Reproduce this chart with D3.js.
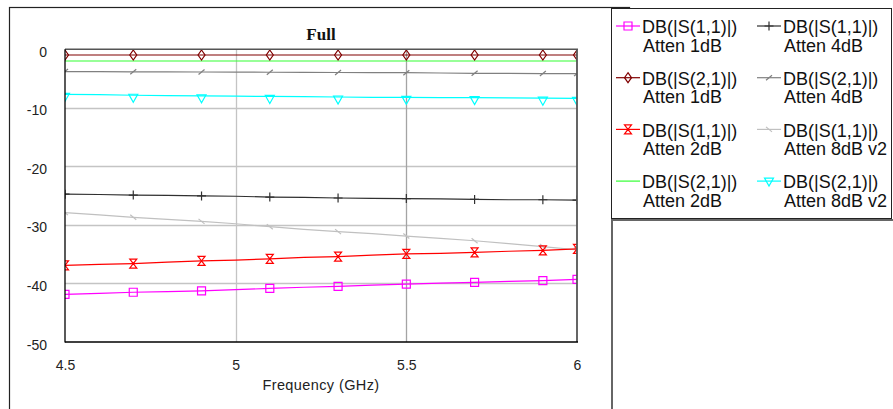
<!DOCTYPE html>
<html><head><meta charset="utf-8">
<script src="https://cdn.jsdelivr.net/npm/d3@7"></script>
<style>
html,body{margin:0;padding:0;background:#fff;}
svg{display:block;}
</style></head>
<body>
<svg id="c" width="893" height="409"></svg>
<script>
// ---- data ----
const freq = [4.5, 4.6, 4.7, 4.8, 4.9, 5.0, 5.1, 5.2, 5.3, 5.4, 5.5, 5.6, 5.7, 5.8, 5.9, 6.0];
const markerFreq = [4.5, 4.7, 4.9, 5.1, 5.3, 5.5, 5.7, 5.9, 6.0];
const yTicks = [0, -10, -20, -30, -40, -50];
const xTicks = [4.5, 5, 5.5, 6];
const chartTitle = "Full";
const xTitle = "Frequency (GHz)";

const s11_1dB = [-41.85, -41.7, -41.5, -41.4, -41.25, -41.05, -40.85, -40.65, -40.5, -40.3, -40.1, -39.95, -39.8, -39.65, -39.5, -39.3];
const s21_1dB = [-0.97, -0.97, -0.97, -0.97, -0.97, -0.97, -0.97, -0.97, -0.97, -0.97, -0.97, -0.97, -0.97, -0.97, -0.97, -0.97];
const s11_2dB = [-36.9, -36.75, -36.6, -36.35, -36.15, -36.0, -35.8, -35.55, -35.4, -35.15, -34.95, -34.85, -34.7, -34.5, -34.35, -34.1];
const s21_2dB = [-2.0, -2.0, -2.0, -2.0, -2.0, -2.0, -2.0, -2.0, -2.0, -2.0, -2.0, -2.0, -2.0, -2.0, -2.0, -2.0];
const s11_4dB = [-24.75, -24.8, -24.9, -24.95, -25.05, -25.1, -25.25, -25.3, -25.4, -25.45, -25.5, -25.55, -25.65, -25.7, -25.7, -25.75];
const s21_4dB = [-3.8, -3.82, -3.84, -3.86, -3.88, -3.9, -3.92, -3.94, -3.96, -3.98, -4.0, -4.05, -4.1, -4.12, -4.14, -4.16];
const s11_8dBv2 = [-27.9, -28.3, -28.7, -29.05, -29.4, -29.8, -30.3, -30.75, -31.15, -31.5, -31.9, -32.3, -32.7, -33.2, -33.7, -34.25];
const s21_8dBv2 = [-7.7, -7.75, -7.85, -7.9, -7.95, -8.0, -8.05, -8.1, -8.15, -8.2, -8.2, -8.25, -8.25, -8.3, -8.35, -8.4];

const seriesLabel1 = ["DB(|S(1,1)|)", "DB(|S(2,1)|)", "DB(|S(1,1)|)", "DB(|S(2,1)|)", "DB(|S(1,1)|)", "DB(|S(2,1)|)", "DB(|S(1,1)|)", "DB(|S(2,1)|)"];
const seriesLabel2 = ["Atten 1dB", "Atten 1dB", "Atten 2dB", "Atten 2dB", "Atten 4dB", "Atten 4dB", "Atten 8dB v2", "Atten 8dB v2"];
const seriesValues = [s11_1dB, s21_1dB, s11_2dB, s21_2dB, s11_4dB, s21_4dB, s11_8dBv2, s21_8dBv2];
const seriesColor = ["#ff00ff", "#800000", "#ff0000", "#33ff33", "#303030", "#808080", "#c0c0c0", "#00ffff"];
const seriesMarker = ["square", "diamond", "bowtie", "none", "plus", "slash", "backslash", "tridown"];

// ---- layout ----
const svg = d3.select("#c");
const L = 65, R = 577, T = 49.3, B = 342;
const x = d3.scaleLinear().domain([4.5, 6]).range([L, R]);
const y = d3.scaleLinear().domain([0, -50]).range([T, B]);

// outer frames
svg.append("rect").attr("x", 9.5).attr("y", 7.5).attr("width", 620).attr("height", 420)
  .attr("fill", "none").attr("stroke", "#222").attr("stroke-width", 1.2);
svg.append("rect").attr("x", 612).attr("y", 220).attr("width", 300).attr("height", 200)
  .attr("fill", "#fff").attr("stroke", "#666").attr("stroke-width", 2);
svg.append("rect").attr("x", 611.5).attr("y", 8.5).attr("width", 280).attr("height", 210)
  .attr("fill", "#fff").attr("stroke", "#222").attr("stroke-width", 1);

// title
svg.append("text").attr("x", 321).attr("y", 40).attr("text-anchor", "middle")
  .attr("font-family", "'Liberation Serif','Times New Roman',serif").attr("font-weight", "bold")
  .attr("font-size", 17).attr("fill", "#111").text(chartTitle);

// grid
const g = svg.append("g");
g.selectAll("line.hg").data(yTicks.filter(v => v !== 0 && v !== -50)).enter().append("line")
  .attr("x1", L).attr("x2", R).attr("y1", d => Math.round(y(d)) + 0.5).attr("y2", d => Math.round(y(d)) + 0.5)
  .attr("stroke", "#c4c4c4").attr("stroke-width", 1.3);
g.selectAll("line.vg").data(xTicks.filter(v => v !== 4.5 && v !== 6)).enter().append("line")
  .attr("y1", T).attr("y2", B).attr("x1", d => Math.round(x(d)) + 0.5).attr("x2", d => Math.round(x(d)) + 0.5)
  .attr("stroke", (d, i) => i === 0 ? "#c4c4c4" : "#a4a4a4").attr("stroke-width", 1.3);

// axes labels
const yAxis = d3.axisLeft(y).tickValues(yTicks).tickSize(0).tickPadding(18).tickFormat(d => String(d));
const ya = svg.append("g").attr("transform", `translate(${L},0)`).call(yAxis);
ya.select(".domain").remove();
ya.selectAll("text").attr("font-family", "'Liberation Sans',Arial,sans-serif").attr("font-size", 14)
  .attr("fill", "#222").attr("dy", "0.5em");

const xAxis = d3.axisBottom(x).tickValues(xTicks).tickSize(0).tickPadding(18).tickFormat(d => String(d));
const xa = svg.append("g").attr("transform", `translate(0,${B})`).call(xAxis);
xa.select(".domain").remove();
xa.selectAll("text").attr("font-family", "'Liberation Sans',Arial,sans-serif").attr("font-size", 14)
  .attr("fill", "#222");

svg.append("text").attr("x", 321).attr("y", 390).attr("text-anchor", "middle")
  .attr("font-family", "'Liberation Sans',Arial,sans-serif").attr("font-size", 14.5)
  .attr("letter-spacing", "0.4").attr("fill", "#222").text(xTitle);

// clip
svg.append("clipPath").attr("id", "pc").append("rect").attr("x", L).attr("y", T - 1).attr("width", R - L).attr("height", B - T + 2);

// marker shapes
function markerPath(type) {
  switch (type) {
    case "square": return "M-4,-4H4V4H-4Z";
    case "diamond": return "M0,-5L3.5,0L0,5L-3.5,0Z";
    case "bowtie": return "M-3.5,-4.5H3.5L0,0L3.5,4.5H-3.5L0,0Z";
    case "plus": return "M-4.5,0H4.5M0,-4.5V4.5";
    case "slash": return "M-3,2.5L3,-2.5";
    case "backslash": return "M-3,-2.5L3,2.5";
    case "tridown": return "M-4.5,-1H4.5L0,7Z";
    default: return "";
  }
}

const plot = svg.append("g").attr("clip-path", "url(#pc)");
const line = d3.line().x((d, i) => x(freq[i])).y(d => y(d));
const drawOrder = [6, 4, 0, 2, 7, 5, 3, 1];
drawOrder.forEach(k => {
  const vals = seriesValues[k];
  plot.append("path").attr("d", line(vals)).attr("fill", "none")
    .attr("stroke", seriesColor[k]).attr("stroke-width", 1.2);
  if (seriesMarker[k] !== "none") {
    const pts = markerFreq.map(f => [f, vals[freq.findIndex(q => Math.abs(q - f) < 1e-9)]]);
    plot.selectAll(null).data(pts).enter().append("path")
      .attr("transform", d => `translate(${x(d[0])},${y(d[1])})`)
      .attr("d", markerPath(seriesMarker[k])).attr("fill", "none")
      .attr("stroke", seriesColor[k]).attr("stroke-width", 1.2);
  }
});

// plot frame
svg.append("line").attr("x1", L).attr("x2", R + 1).attr("y1", T).attr("y2", T).attr("stroke", "#555").attr("stroke-width", 1.6);
svg.append("line").attr("x1", R).attr("x2", R).attr("y1", T).attr("y2", B).attr("stroke", "#555").attr("stroke-width", 1.8);
svg.append("line").attr("x1", L).attr("x2", L).attr("y1", T).attr("y2", B + 0.5).attr("stroke", "#000").attr("stroke-width", 1.3);
svg.append("line").attr("x1", L).attr("x2", R + 1).attr("y1", B).attr("y2", B).attr("stroke", "#000").attr("stroke-width", 1.3);

// legend
const legOrder = [0, 1, 2, 3, 4, 5, 6, 7];
const colX = [616, 757];
const legend = svg.append("g");
legOrder.forEach((k, idx) => {
  const col = idx < 4 ? 0 : 1;
  const row = idx % 4;
  const base = 33.3 + row * 51.7;
  const ly = base - 7.3;
  const lx0 = colX[col], lx1 = colX[col] + 24;
  legend.append("line").attr("x1", lx0).attr("x2", lx1).attr("y1", ly).attr("y2", ly)
    .attr("stroke", seriesColor[k]).attr("stroke-width", 1.2);
  if (seriesMarker[k] !== "none") {
    const myOff = seriesMarker[k] === "tridown" ? -2 : 0;
    legend.append("path").attr("transform", `translate(${(lx0 + lx1) / 2},${ly + myOff})`)
      .attr("d", markerPath(seriesMarker[k])).attr("fill", "none")
      .attr("stroke", seriesColor[k]).attr("stroke-width", 1.2);
  }
  const t = legend.append("text").attr("font-family", "'Liberation Sans',Arial,sans-serif")
    .attr("font-size", 18).attr("fill", "#111");
  t.append("tspan").attr("x", lx1 + 2).attr("y", base).text(seriesLabel1[k]);
  t.append("tspan").attr("x", lx1 + 3).attr("y", base + 18.4).text(seriesLabel2[k]);
});
</script>
</body></html>
